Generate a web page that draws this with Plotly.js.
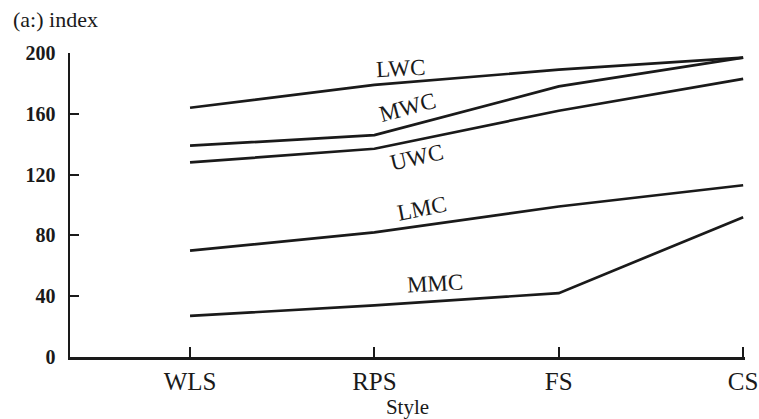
<!DOCTYPE html>
<html>
<head>
<meta charset="utf-8">
<script src="https://cdn.plot.ly/plotly-3.0.1.min.js"></script>
<style>
html,body{margin:0;padding:0;background:#fff;}
#chart{width:759px;height:419px;}
</style>
</head>
<body>
<div id="chart"></div>
<script>
// Data
var styles = ["WLS", "RPS", "FS", "CS"];
var seriesNames = ["LWC", "MWC", "UWC", "LMC", "MMC"];
var LWC = [164, 179, 189, 197];
var MWC = [139, 146, 178, 197];
var UWC = [128, 137, 162, 183];
var LMC = [70, 82, 99, 113];
var MMC = [27, 34, 42, 92];
var yTicks = [0, 40, 80, 120, 160, 200];

var allSeries = [LWC, MWC, UWC, LMC, MMC];
var serif = "Liberation Serif, DejaVu Serif, serif";
var ink = "#1a1a1a";

var traces = allSeries.map(function (vals, i) {
  return {
    type: "scatter",
    mode: "lines",
    x: styles,
    y: vals,
    name: seriesNames[i],
    line: {color: ink, width: 2.7},
    hoverinfo: "skip",
    showlegend: false
  };
});

// label placement (index position along category axis, y value, angle)
var labelPos = [
  {x: 1.14, y: 190, a: -3},
  {x: 1.18, y: 164, a: -15},
  {x: 1.23, y: 131, a: -13},
  {x: 1.26, y: 98, a: -11},
  {x: 1.33, y: 48.5, a: -3}
];

var annotations = seriesNames.map(function (n, i) {
  return {
    x: labelPos[i].x, y: labelPos[i].y, xref: "x", yref: "y",
    text: n, showarrow: false, textangle: labelPos[i].a,
    font: {family: serif, size: 23, color: ink}
  };
});

annotations.push({
  xref: "paper", yref: "paper", x: -0.088, y: 1.11,
  xanchor: "left", yanchor: "middle", showarrow: false,
  text: "(a:) index", font: {family: serif, size: 22, color: ink}
});

var layout = {
  width: 759, height: 419,
  margin: {l: 70, r: 14, t: 53, b: 62},
  paper_bgcolor: "#ffffff",
  plot_bgcolor: "#ffffff",
  xaxis: {
    type: "category",
    categoryarray: styles,
    range: [-0.651, 3.01],
    showgrid: false, zeroline: false,
    showline: true, linecolor: ink, linewidth: 2.5,
    ticks: "inside", ticklen: 10, tickwidth: 2, tickcolor: ink,
    tickfont: {family: serif, size: 25, color: ink},
    title: {text: "Style", font: {family: serif, size: 21, color: ink}, standoff: 6}
  },
  yaxis: {
    range: [0, 200],
    tickvals: yTicks,
    showgrid: false, zeroline: false,
    showline: true, linecolor: ink, linewidth: 2.5,
    ticks: "inside", ticklen: 9, tickwidth: 2, tickcolor: ink,
    tickfont: {family: serif, size: 20, color: ink, weight: "bold"},
    ticklabelstandoff: 8
  },
  annotations: annotations
};

Plotly.newPlot("chart", traces, layout, {displayModeBar: false, staticPlot: true});
</script>
</body>
</html>
